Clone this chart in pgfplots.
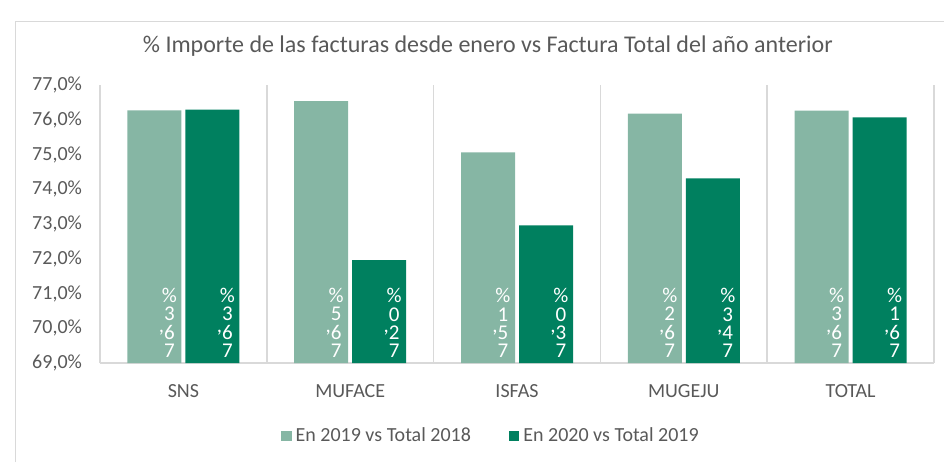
\documentclass[border=0pt]{standalone}
\usepackage{pgfplots}
\pgfplotsset{compat=1.18}
\usepackage{fontspec}
\setmainfont{Carlito}
\definecolor{lightg}{HTML}{86B6A4}
\definecolor{darkg}{HTML}{00805F}
\definecolor{txt}{HTML}{595959}
\definecolor{gridc}{HTML}{D9D9D9}
\protected\def\stk#1#2#3{\begingroup\fontsize{10.5}{8}\selectfont\def\arraystretch{1}\begin{tabular}{@{}c@{}}\%\\#1\\\llap{\raisebox{3.5pt}{,}}#2\\#3\end{tabular}\endgroup}
\begin{document}
\begin{tikzpicture}
\path[use as bounding box] (0,0) rectangle (472pt,231pt);
\draw[gridc] (7.5pt,0) -- (7.5pt,220.5pt) -- (472pt,220.5pt);
\begin{axis}[
  at={(50pt,49.5pt)}, anchor=south west,
  scale only axis, width=417pt, height=139pt,
  ybar=2pt, bar width=27pt,
  xmin=-0.5, xmax=4.5, ymin=69, ymax=77,
  xtick={0,1,2,3,4},
  xticklabels={SNS,MUFACE,ISFAS,MUGEJU,TOTAL},
  minor xtick={-0.5,0.5,1.5,2.5,3.5,4.5},
  xminorgrids=true,
  minor grid style={gridc, line width=0.8pt},
  major tick length=0pt, minor tick length=0pt,
  ytick={69,70,...,77},
  yticklabel={\pgfmathprintnumber[fixed,fixed zerofill,precision=1,use comma,assume math mode=true]{\tick}\%},
  axis x line*=bottom, axis y line*=left,
  x axis line style={gridc, line width=0.8pt, -},
  y axis line style={draw=none},
  tick label style={text=txt, font=\fontsize{10}{12}\selectfont},
  yticklabel style={xshift=-5.5pt},
  xticklabel style={yshift=-7pt},
  title={\% Importe de las facturas desde enero vs Factura Total del año anterior},
  title style={at={(0.465,1.098)}, anchor=center, text=txt, font=\fontsize{12}{14}\selectfont},
  legend style={at={(0.47,-0.2626)}, anchor=center, draw=none, fill=none,
    legend columns=2, font=\fontsize{10}{12}\selectfont, text=txt,
    /tikz/every even column/.append style={column sep=17pt}},
  legend image code/.code={\fill[#1] (0pt,-2.6pt) rectangle (5.2pt,2.6pt);},
  every node near coord/.append style={anchor=south, inner sep=0pt, text=white, xshift=7.5pt},
]
\addplot[fill=lightg, draw=none, bar shift=-14.5pt] coordinates {(0,76.27) (1,76.54) (2,75.06) (3,76.18) (4,76.26)};
\addlegendentry{En 2019 vs Total 2018}
\addplot[fill=darkg, draw=none, bar shift=14.5pt] coordinates {(0,76.29) (1,71.96) (2,72.96) (3,74.31) (4,76.07)};
\addlegendentry{En 2020 vs Total 2019}
\addplot[draw=none, fill=none, bar shift=-14.5pt, forget plot, nodes near coords, point meta=explicit symbolic]
  coordinates {(0,69) [\stk{3}{6}{7}] (1,69) [\stk{5}{6}{7}] (2,69) [\stk{1}{5}{7}] (3,69) [\stk{2}{6}{7}] (4,69) [\stk{3}{6}{7}]};
\addplot[draw=none, fill=none, bar shift=14.5pt, forget plot, nodes near coords, point meta=explicit symbolic]
  coordinates {(0,69) [\stk{3}{6}{7}] (1,69) [\stk{0}{2}{7}] (2,69) [\stk{0}{3}{7}] (3,69) [\stk{3}{4}{7}] (4,69) [\stk{1}{6}{7}]};
\end{axis}
\end{tikzpicture}
\end{document}
